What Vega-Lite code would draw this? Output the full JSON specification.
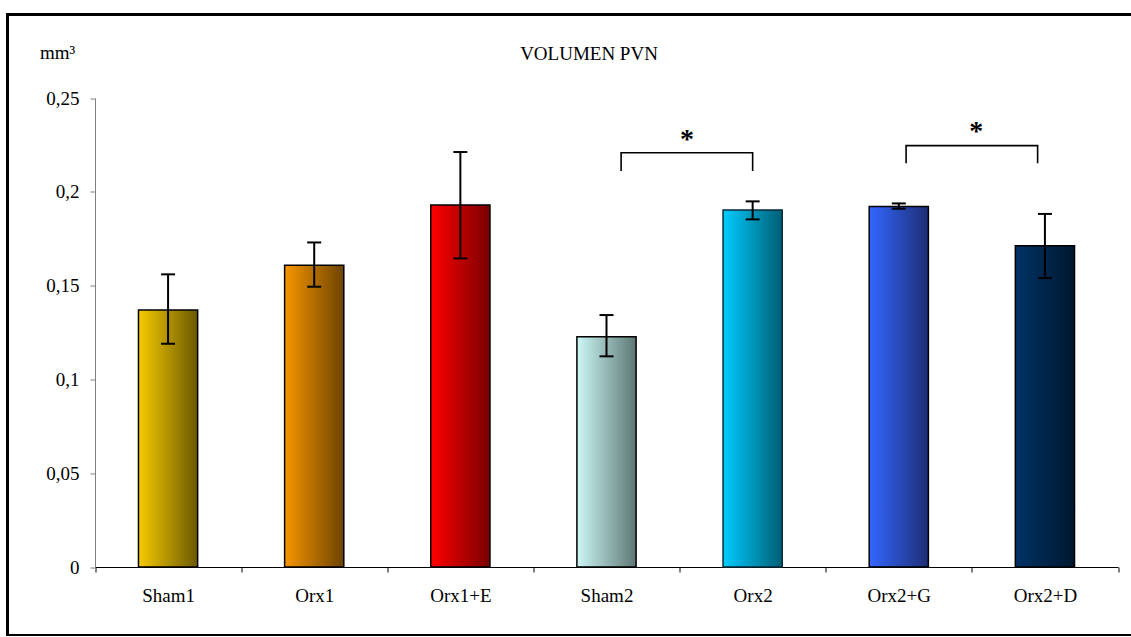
{
  "$schema": "https://vega.github.io/schema/vega-lite/v6.json",
  "width": 1131,
  "height": 621,
  "autosize": {"type": "none"},
  "padding": {"left": 7.5, "top": 14.5, "right": 0, "bottom": 0},
  "background": "white",
  "config": {
    "view": {"stroke": "black", "strokeWidth": 3, "fill": "white"},
    "font": "Liberation Serif"
  },
  "title": {
    "text": "VOLUMEN PVN",
    "font": "Liberation Serif",
    "fontSize": 19,
    "fontWeight": "normal",
    "color": "black",
    "anchor": "middle",
    "baseline": "middle",
    "offset": 0,
    "dx": 16,
    "dy": 58
  },
  "datasets": {
    "bars": [
      {"group": "Sham1", "mean": 0.137, "lo": 0.119, "hi": 0.156},
      {"group": "Orx1", "mean": 0.1608, "lo": 0.1494, "hi": 0.173},
      {"group": "Orx1+E", "mean": 0.193, "lo": 0.1645, "hi": 0.2212},
      {"group": "Sham2", "mean": 0.1228, "lo": 0.1123, "hi": 0.1343},
      {"group": "Orx2", "mean": 0.1903, "lo": 0.1853, "hi": 0.1949},
      {"group": "Orx2+G", "mean": 0.1921, "lo": 0.191, "hi": 0.1938},
      {"group": "Orx2+D", "mean": 0.1713, "lo": 0.154, "hi": 0.1882}
    ],
    "brackets": [
      {"id": "a", "seq": 1, "x": 3.6, "y": 0.2111},
      {"id": "a", "seq": 2, "x": 3.6, "y": 0.2208},
      {"id": "a", "seq": 3, "x": 4.5, "y": 0.2208},
      {"id": "a", "seq": 4, "x": 4.5, "y": 0.2111},
      {"id": "b", "seq": 1, "x": 5.55, "y": 0.2152},
      {"id": "b", "seq": 2, "x": 5.55, "y": 0.2246},
      {"id": "b", "seq": 3, "x": 6.45, "y": 0.2246},
      {"id": "b", "seq": 4, "x": 6.45, "y": 0.2152}
    ],
    "stars": [
      {"x": 4.05, "y": 0.2297, "label": "*"},
      {"x": 6.03, "y": 0.234, "label": "*"}
    ]
  },
  "layer": [
    {
      "data": {"name": "bars"},
      "encoding": {
        "x": {
          "field": "group",
          "type": "nominal",
          "sort": null,
          "scale": {
            "domain": ["Sham1", "Orx1", "Orx1+E", "Sham2", "Orx2", "Orx2+G", "Orx2+D"],
            "range": [87.5, 1110.5],
            "paddingInner": 0,
            "paddingOuter": 0
          },
          "axis": {
            "orient": "bottom",
            "offset": -68.5,
            "title": null,
            "tickBand": "extent",
            "domainColor": "black",
            "domainWidth": 1,
            "tickColor": "black",
            "tickWidth": 1,
            "tickSize": 5,
            "labelAngle": 0,
            "labelFont": "Liberation Serif",
            "labelFontSize": 19,
            "labelColor": "black",
            "labelPadding": 14,
            "grid": false
          }
        },
        "y": {
          "field": "mean",
          "type": "quantitative",
          "scale": {"domain": [0, 0.25], "range": [552.5, 83.5], "nice": false, "zero": true},
          "axis": {
            "orient": "left",
            "offset": -87.5,
            "values": [0, 0.05, 0.1, 0.15, 0.2, 0.25],
            "labelExpr": "replace(format(datum.value, '~g'), '.', ',')",
            "domainColor": "#808080",
            "domainWidth": 1,
            "tickColor": "#808080",
            "tickWidth": 1,
            "tickSize": 5,
            "labelFont": "Liberation Serif",
            "labelFontSize": 19,
            "labelColor": "black",
            "labelPadding": 11,
            "grid": false,
            "title": "mm³",
            "titleFont": "Liberation Serif",
            "titleFontSize": 19,
            "titleFontWeight": "normal",
            "titleColor": "black",
            "titleAngle": 0,
            "titleAlign": "center",
            "titleBaseline": "middle",
            "titleX": -38,
            "titleY": 37.5
          }
        }
      },
      "layer": [
        {"transform": [{"filter": "datum.group === 'Sham1'"}],
         "mark": {"type": "bar", "width": {"band": 0.405}, "stroke": "black", "strokeWidth": 1.5,
           "fill": {"gradient": "linear", "x1": 0, "y1": 0, "x2": 1, "y2": 0, "stops": [{"offset": 0, "color": "#F7CB00"}, {"offset": 1, "color": "#6A5800"}]}}},
        {"transform": [{"filter": "datum.group === 'Orx1'"}],
         "mark": {"type": "bar", "width": {"band": 0.405}, "stroke": "black", "strokeWidth": 1.5,
           "fill": {"gradient": "linear", "x1": 0, "y1": 0, "x2": 1, "y2": 0, "stops": [{"offset": 0, "color": "#F79600"}, {"offset": 1, "color": "#6C4300"}]}}},
        {"transform": [{"filter": "datum.group === 'Orx1+E'"}],
         "mark": {"type": "bar", "width": {"band": 0.405}, "stroke": "black", "strokeWidth": 1.5,
           "fill": {"gradient": "linear", "x1": 0, "y1": 0, "x2": 1, "y2": 0, "stops": [{"offset": 0, "color": "#FF0000"}, {"offset": 1, "color": "#780000"}]}}},
        {"transform": [{"filter": "datum.group === 'Sham2'"}],
         "mark": {"type": "bar", "width": {"band": 0.405}, "stroke": "black", "strokeWidth": 1.5,
           "fill": {"gradient": "linear", "x1": 0, "y1": 0, "x2": 1, "y2": 0, "stops": [{"offset": 0, "color": "#CCF8F6"}, {"offset": 1, "color": "#5E7774"}]}}},
        {"transform": [{"filter": "datum.group === 'Orx2'"}],
         "mark": {"type": "bar", "width": {"band": 0.405}, "stroke": "#0A2A3A", "strokeWidth": 1.5,
           "fill": {"gradient": "linear", "x1": 0, "y1": 0, "x2": 1, "y2": 0, "stops": [{"offset": 0, "color": "#00CCFF"}, {"offset": 1, "color": "#005E75"}]}}},
        {"transform": [{"filter": "datum.group === 'Orx2+G'"}],
         "mark": {"type": "bar", "width": {"band": 0.405}, "stroke": "black", "strokeWidth": 1.5,
           "fill": {"gradient": "linear", "x1": 0, "y1": 0, "x2": 1, "y2": 0, "stops": [{"offset": 0, "color": "#3366FF"}, {"offset": 1, "color": "#1E2E75"}]}}},
        {"transform": [{"filter": "datum.group === 'Orx2+D'"}],
         "mark": {"type": "bar", "width": {"band": 0.405}, "stroke": "black", "strokeWidth": 1.5,
           "fill": {"gradient": "linear", "x1": 0, "y1": 0, "x2": 1, "y2": 0, "stops": [{"offset": 0, "color": "#003366"}, {"offset": 1, "color": "#00172E"}]}}},
        {"mark": {"type": "rule", "color": "black", "strokeWidth": 2},
         "encoding": {"y": {"field": "lo", "type": "quantitative"}, "y2": {"field": "hi"}}},
        {"mark": {"type": "tick", "color": "black", "size": 14, "thickness": 2, "opacity": 1},
         "encoding": {"y": {"field": "lo", "type": "quantitative"}}},
        {"mark": {"type": "tick", "color": "black", "size": 14, "thickness": 2, "opacity": 1},
         "encoding": {"y": {"field": "hi", "type": "quantitative"}}}
      ]
    },
    {
      "data": {"name": "brackets"},
      "mark": {"type": "line", "color": "black", "strokeWidth": 1.6, "strokeCap": "butt"},
      "encoding": {
        "x": {"field": "x", "type": "quantitative", "scale": {"domain": [0, 7], "range": [87.5, 1110.5], "nice": false, "zero": false}, "axis": null},
        "y": {"field": "y", "type": "quantitative"},
        "detail": {"field": "id"},
        "order": {"field": "seq"}
      }
    },
    {
      "data": {"name": "stars"},
      "mark": {"type": "text", "font": "Liberation Serif", "fontSize": 28, "fontWeight": "bold", "color": "black", "align": "center", "baseline": "alphabetic", "dy": 12},
      "encoding": {
        "x": {"field": "x", "type": "quantitative", "scale": {"domain": [0, 7], "range": [87.5, 1110.5], "nice": false, "zero": false}, "axis": null},
        "y": {"field": "y", "type": "quantitative"},
        "text": {"field": "label"}
      }
    }
  ],
  "resolve": {"scale": {"x": "independent"}}
}
